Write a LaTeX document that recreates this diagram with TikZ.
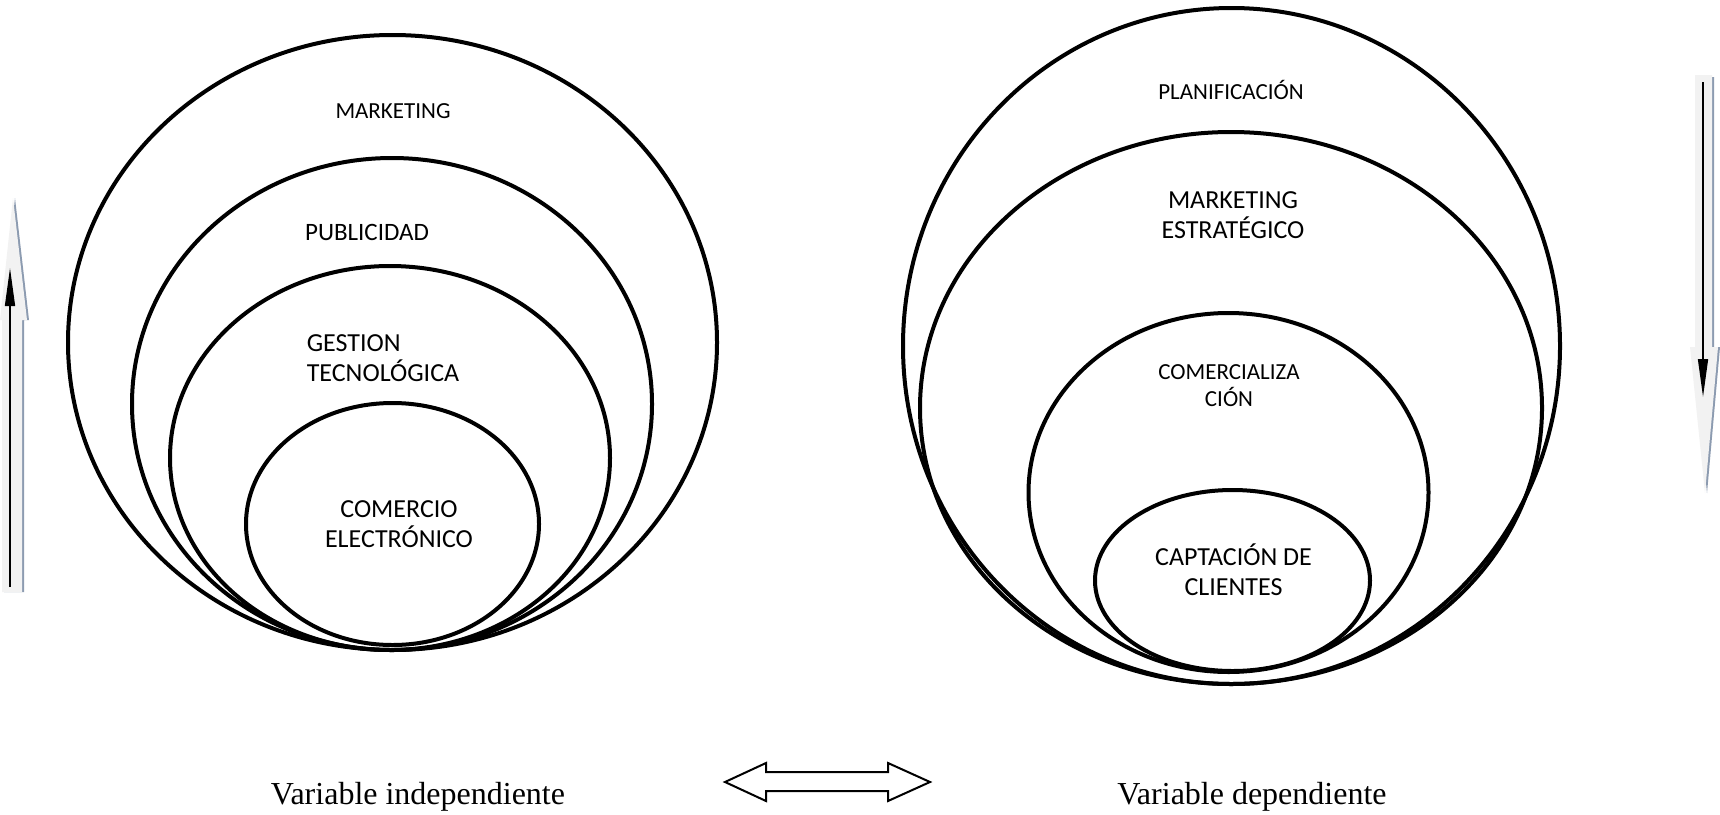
\documentclass[tikz,border=0pt]{standalone}
\usepackage{fontspec}
\setmainfont{Carlito}
\newfontfamily\timesfont{Liberation Serif}
\usetikzlibrary{shapes.geometric,arrows.meta}
\definecolor{shadowblue}{HTML}{8C9BB0}
\definecolor{lightfill}{HTML}{F2F2F2}
\tikzset{
  ring/.style={draw=black, line width=4pt, ellipse, inner sep=0pt, outer sep=0pt},
  small/.style={font=\fontsize{23}{27}\selectfont, align=center, inner sep=0pt},
  large/.style={font=\fontsize{26}{30}\selectfont, align=center, inner sep=0pt},
  medium/.style={font=\fontsize{25}{29}\selectfont, align=center, inner sep=0pt},
  caption/.style={font=\timesfont\fontsize{32}{36}\selectfont, inner sep=0pt},
  blockarrow/.style={fill=lightfill, draw=none},
  blockshadow/.style={fill=shadowblue, draw=none},
  thinarrow/.style={draw=black, line width=1.5pt, -{Triangle[length=38pt,width=10pt]}},
  dblarrow/.style={draw=black, line width=2pt, fill=white, line join=miter}
}
\begin{document}
\begin{tikzpicture}[x=1pt,y=-1pt]
\useasboundingbox (0,0) rectangle (1720,814);
\fill[white] (0,0) rectangle (1720,814);

% left rings
\node[ring, minimum width=649pt, minimum height=615pt] (mkt) at (392.5,342.5) {};
\node[ring, minimum width=520pt, minimum height=492pt] (pub) at (392,404) {};
\node[ring, minimum width=440pt, minimum height=384pt] (ges) at (390,458) {};
\node[ring, minimum width=293pt, minimum height=242pt] (com) at (392.5,524) {};

\node[small] (tmkt) at (393,111) {MARKETING};
\node[medium] (tpub) at (367,232) {PUBLICIDAD};
\node[large, align=left] (tges) at (383,358) {GESTION\\TECNOLÓGICA};
\node[large] (tcom) at (399,524) {COMERCIO\\ELECTRÓNICO};

% right rings
\node[ring, minimum width=657pt, minimum height=676pt] (pla) at (1231.5,346) {};
\node[ring, minimum width=622pt, minimum height=552pt] (mes) at (1231,408) {};
\node[ring, minimum width=400pt, minimum height=359pt] (cmz) at (1228.5,492.5) {};
\node[ring, minimum width=275pt, minimum height=181pt] (cap) at (1232.5,580.5) {};

\node[small] (tpla) at (1231,90) {PLANIFICACIÓN};
\node[large] (tmes) at (1233,215) {MARKETING\\ESTRATÉGICO};
\node[small] (tcmz) at (1229,386) {COMERCIALIZA\\CIÓN};
\node[large] (tcap) at (1233.5,570) {CAPTACIÓN DE\\CLIENTES};

% captions
\node[caption] (vind) at (418,797) {Variable independiente};
\node[caption] (vdep) at (1252,797) {Variable dependiente};

% double arrow
\draw[dblarrow] (725,782) -- (766,763) -- (766,772) -- (888,772) -- (888,763)
  -- (930,782) -- (888,801) -- (888,791) -- (766,791) -- (766,801) -- cycle;

% left block arrow (up)
\fill[blockshadow] (15,198) -- (29,320) -- (24,320) -- (24,592) -- (4,592) -- (4,320) -- (2,320) -- cycle;
\fill[blockarrow] (13,198) -- (27,320) -- (22,320) -- (22,592) -- (2,592) -- (2,320) -- (0,320) -- cycle;
\coordinate (lua) at (10,587);
\coordinate (lub) at (10,268);
\draw[thinarrow] (lua) -- (lub);

% right block arrow (down)
\fill[blockshadow] (1697,77) -- (1714,77) -- (1714,347) -- (1720,347) -- (1707,493) -- (1692,347) -- (1697,347) -- cycle;
\fill[blockarrow] (1695,75) -- (1712,75) -- (1712,347) -- (1718,347) -- (1705,493) -- (1690,347) -- (1695,347) -- cycle;
\coordinate (rda) at (1703,82);
\coordinate (rdb) at (1703,397);
\draw[thinarrow] (rda) -- (rdb);
\end{tikzpicture}
\end{document}
